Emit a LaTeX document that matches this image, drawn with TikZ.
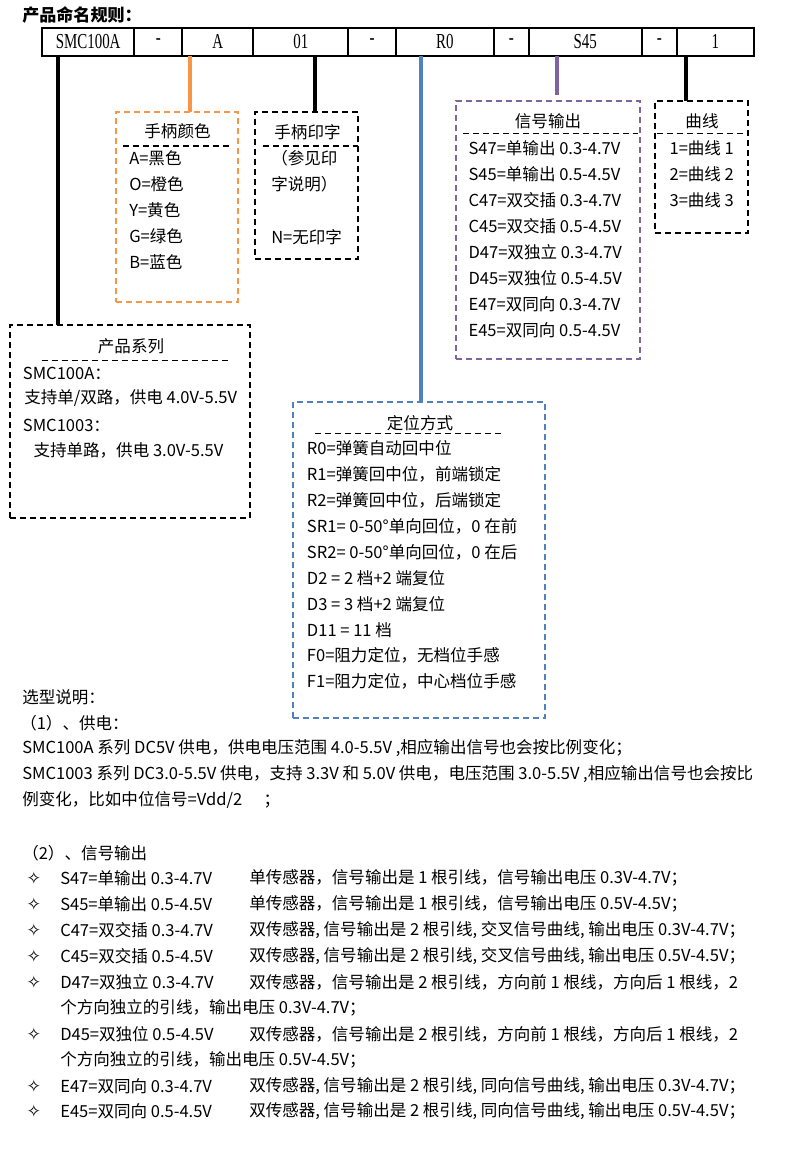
\documentclass[tikz,border=0pt]{standalone}
\usepackage{fontspec}
\setmainfont{Noto Sans CJK SC}
\newfontfamily\cellfont[FakeStretch=0.7]{Liberation Serif}
\newfontfamily\symfont{DejaVu Sans}
\usetikzlibrary{positioning,calc}
\definecolor{hcorange}{HTML}{F79646}
\definecolor{hcblue}{HTML}{4F81BD}
\definecolor{hcpurple}{HTML}{8064A2}
\tikzset{
  cell/.style={
    draw,
    line width=1.4pt,
    inner sep=0pt,
    outer sep=0pt,
    minimum height=27.7*0.75pt,
    minimum width=#1*0.75pt,
    font=\cellfont\fontsize{16}{16}\selectfont
  },
  hbox/.style n args={3}{
    draw=#1,
    line width=1.1pt,
    dash pattern=on 4.5pt off 3pt,
    inner sep=0pt,
    outer sep=0pt,
    minimum width=#2*0.75pt,
    minimum height=#3*0.75pt,
    anchor=north west
  },
  sepline/.style={line width=1.1pt,dash pattern=on 4.5pt off 3pt},
  boxtitle/.style={inner sep=0pt,font=\fontsize{12.4}{14}\selectfont},
  item/.style={anchor=west,inner sep=0pt,font=\fontsize{12.4}{14}\selectfont},
  heading/.style={anchor=west,inner sep=0pt,font=\fontsize{12.8}{14}\selectfont\bfseries},
  bullet/.style={inner sep=0pt,font=\symfont\fontsize{13}{13}\selectfont},
  lead/.style={draw=#1,line width=3pt}
}

\begin{document}
\begin{tikzpicture}[x=0.75pt,y=-0.75pt]
\useasboundingbox (0,0) rectangle (800,1151);
\fill[white] (0,0) rectangle (800,1151);

\node[heading] (title) at (22,15) {产品命名规则：};

% code cells
\node[cell=92.3,anchor=north west] (cSeries) at (42,28) {SMC100A};
\node[cell=48,right=0pt of cSeries] (cDash1) {-};
\node[cell=71,right=0pt of cDash1] (cColor) {A};
\node[cell=95,right=0pt of cColor] (cPrint) {01};
\node[cell=47.5,right=0pt of cPrint] (cDash2) {-};
\node[cell=98.2,right=0pt of cDash2] (cReturn) {R0};
\node[cell=34.6,right=0pt of cReturn] (cDash3) {-};
\node[cell=113.4,right=0pt of cDash3] (cSignal) {S45};
\node[cell=34.7,right=0pt of cSignal] (cDash4) {-};
\node[cell=77.3,right=0pt of cDash4] (cCurve) {1};

% boxes
\node[hbox={hcorange}{122}{190}] (bColor) at (116,112) {};
\node[hbox={black}{103}{147}] (bPrint) at (255,112) {};
\node[hbox={hcpurple}{184}{258}] (bSignal) at (456,101) {};
\node[hbox={black}{93}{132}] (bCurve) at (655,101) {};
\node[hbox={black}{240}{193}] (bSeries) at (10,325) {};
\node[hbox={hcblue}{252}{316}] (bReturn) at (293,402) {};

\draw[sepline] (122.7,146) -- (231.7,146);
\draw[sepline] (263,146) -- (358,146);
\draw[sepline] (463,133.3) -- (638,133.3);
\draw[sepline] (656.7,133.3) -- (748,133.3);
\draw[sepline] (41.7,360.7) -- (231.7,360.7);
\draw[sepline] (315,433.3) -- (505,433.3);

\node[boxtitle] (tColor) at (177.5,131.7) {手柄颜色};
\node[boxtitle] (tPrint) at (307.5,131.7) {手柄印字};
\node[boxtitle] (tSignal) at (548,121.7) {信号输出};
\node[boxtitle] (tCurve) at (702,121.7) {曲线};
\node[boxtitle] (tSeries) at (131,346.7) {产品系列};
\node[boxtitle] (tReturn) at (420,423.3) {定位方式};

\foreach \t [count=\i from 0] in {A=黑色,O=橙色,Y=黄色,G=绿色,B=蓝色}
  \node[item] (col\i) at (129,158.3+26*\i) {\t};

\node[item] (prt0) at (271,158.3) {（参见印};
\node[item] (prt1) at (271,184.3) {字说明）};
\node[item] (prt2) at (271,236.7) {N=无印字};

\foreach \t [count=\i from 0] in {S47=单输出 0.3-4.7V,S45=单输出 0.5-4.5V,
    C47=双交插 0.3-4.7V,C45=双交插 0.5-4.5V,D47=双独立 0.3-4.7V,
    D45=双独位 0.5-4.5V,E47=双同向 0.3-4.7V,E45=双同向 0.5-4.5V}
  \node[item] (sig\i) at (468.3,148.3+25.96*\i) {\t};

\foreach \t [count=\i from 0] in {1=曲线 1,2=曲线 2,3=曲线 3}
  \node[item] (cur\i) at (669.3,148.3+25.96*\i) {\t};

\node[item] (ser0) at (22.7,373.3) {SMC100A：};
\node[item] (ser1) at (24,398.3) {支持单/双路，供电 4.0V-5.5V};
\node[item] (ser2) at (22.7,425) {SMC1003：};
\node[item] (ser3) at (33.3,450.7) {支持单路，供电 3.0V-5.5V};

\foreach \t [count=\i from 0] in {R0=弹簧自动回中位,R1=弹簧回中位，前端锁定,
    R2=弹簧回中位，后端锁定,SR1= 0-50°单向回位，0 在前,SR2= 0-50°单向回位，0 在后,
    D2 = 2 档+2 端复位,D3 = 3 档+2 端复位,D11 = 11 档,
    F0=阻力定位，无档位手感,F1=阻力定位，中心档位手感}
  \node[item] (ret\i) at (306.7,448.3+25.93*\i) {\t};

% leads from cells to boxes
\coordinate (kSeries) at (58,0);
\coordinate (kColor) at (190,0);
\coordinate (kPrint) at (315,0);
\coordinate (kReturn) at (421,0);
\coordinate (kSignal) at (556.7,0);
\coordinate (kCurve) at (686,0);
\draw[lead=black] (cSeries.south -| kSeries) -- (bSeries.north -| kSeries);
\draw[lead=hcorange] (cColor.south -| kColor) -- (bColor.north -| kColor);
\draw[lead=black] (cPrint.south -| kPrint) -- (bPrint.north -| kPrint);
\draw[lead=hcblue] (cReturn.south -| kReturn) -- (bReturn.north -| kReturn);
\draw[lead=hcpurple] (cSignal.south -| kSignal) -- ([yshift=4.5pt]bSignal.north -| kSignal);
\draw[lead=black] (cCurve.south -| kCurve) -- (bCurve.north -| kCurve);

% notes below
\node[item] (n0) at (22,697) {选型说明：};
\node[item] (n1) at (20,723) {（1）、供电：};
\node[item] (n2) at (22,748) {SMC100A 系列 DC5V 供电，供电电压范围 4.0-5.5V ,相应输出信号也会按比例变化；};
\node[item] (n3) at (22,774) {SMC1003 系列 DC3.0-5.5V 供电，支持 3.3V 和 5.0V 供电，电压范围 3.0-5.5V ,相应输出信号也会按比};
\node[item] (n4) at (22,800) {例变化，比如中位信号=Vdd/2\hspace{1.3em}；};
\node[item] (n5) at (22,853) {（2）、信号输出};

\foreach \y/\code/\desc [count=\i from 0] in {
    878/S47=单输出 0.3-4.7V/{单传感器，信号输出是 1 根引线，信号输出电压 0.3V-4.7V；},
    904/S45=单输出 0.5-4.5V/{单传感器，信号输出是 1 根引线，信号输出电压 0.5V-4.5V；},
    930/C47=双交插 0.3-4.7V/{双传感器, 信号输出是 2 根引线, 交叉信号曲线, 输出电压 0.3V-4.7V；},
    956/C45=双交插 0.5-4.5V/{双传感器, 信号输出是 2 根引线, 交叉信号曲线, 输出电压 0.5V-4.5V；},
    982/D47=双独立 0.3-4.7V/{双传感器，信号输出是 2 根引线，方向前 1 根线，方向后 1 根线，2},
    1034/D45=双独位 0.5-4.5V/{双传感器，信号输出是 2 根引线，方向前 1 根线，方向后 1 根线，2},
    1086/E47=双同向 0.3-4.7V/{双传感器, 信号输出是 2 根引线, 同向信号曲线, 输出电压 0.3V-4.7V；},
    1111/E45=双同向 0.5-4.5V/{双传感器, 信号输出是 2 根引线, 同向信号曲线, 输出电压 0.5V-4.5V；}} {
  \node[bullet] (bul\i) at (34,\y) {✧};
  \node[item] (code\i) at (60,\y) {\code};
  \node[item] (desc\i) at (249,\y) {\desc};
}
\node[item] (wrap0) at (60,1008) {个方向独立的引线，输出电压 0.3V-4.7V；};
\node[item] (wrap1) at (60,1060) {个方向独立的引线，输出电压 0.5V-4.5V；};
\end{tikzpicture}
\end{document}
